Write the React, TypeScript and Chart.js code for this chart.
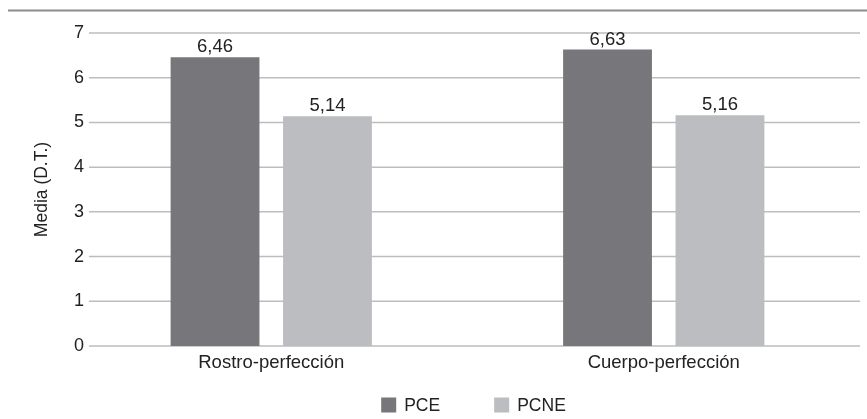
import React, { useEffect, useRef } from "react";
import { Chart, registerables } from "chart.js";

Chart.register(...registerables);

const categories = ["Rostro-perfección", "Cuerpo-perfección"];
const seriesNames = ["PCE", "PCNE"];
const pceValues = [6.46, 6.63];
const pcneValues = [5.14, 5.16];
const yTicks = [0, 1, 2, 3, 4, 5, 6, 7];

const COLORS = ["#77777b", "#bcbdc0"];
const FONT = "'Liberation Sans', Arial, Helvetica, sans-serif";
const TEXT = "#222222";

const fmt = (v: number) => v.toFixed(2).replace(".", ",");

const customPlugin = {
  id: "custom",
  beforeDatasetsDraw(chart: any) {
    const { ctx, chartArea, scales } = chart;
    const y = scales.y;
    ctx.save();
    ctx.strokeStyle = "#bdbdbd";
    ctx.lineWidth = 1.5;
    yTicks.forEach((t) => {
      const py = y.getPixelForValue(t);
      ctx.beginPath();
      ctx.moveTo(chartArea.left + 14, py);
      ctx.lineTo(chartArea.right, py);
      ctx.stroke();
    });
    ctx.restore();
  },
  afterDraw(chart: any) {
    const { ctx, chartArea } = chart;
    ctx.save();
    // top rule
    ctx.strokeStyle = "#8c8c8c";
    ctx.lineWidth = 2;
    ctx.beginPath();
    ctx.moveTo(8, 10.5);
    ctx.lineTo(chart.width, 10.5);
    ctx.stroke();

    // value labels
    ctx.font = `18.5px ${FONT}`;
    ctx.fillStyle = TEXT;
    ctx.textAlign = "center";
    ctx.textBaseline = "alphabetic";
    chart.data.datasets.forEach((ds: any, di: number) => {
      const meta = chart.getDatasetMeta(di);
      meta.data.forEach((bar: any, i: number) => {
        ctx.fillText(fmt(ds.data[i]), bar.x, bar.y - 5);
      });
    });

    // legend
    ctx.font = `17.5px ${FONT}`;
    ctx.textBaseline = "middle";
    ctx.textAlign = "left";
    const box = 15;
    const gap = 8;
    const spacing = 54;
    const widths = seriesNames.map((n) => ctx.measureText(n).width);
    const total =
      widths.reduce((a: number, w: number) => a + box + gap + w, 0) +
      spacing * (seriesNames.length - 1);
    let x = (chartArea.left + chartArea.right) / 2 + 6 - total / 2;
    const cy = 405;
    seriesNames.forEach((n, i) => {
      ctx.fillStyle = COLORS[i];
      ctx.fillRect(x, cy - box / 2, box, box);
      ctx.fillStyle = TEXT;
      ctx.fillText(n, x + box + gap, cy + 1);
      x += box + gap + widths[i] + spacing;
    });
    ctx.restore();
  },
};

export default function App() {
  const ref = useRef<HTMLCanvasElement>(null);

  useEffect(() => {
    if (!ref.current) return;
    const chart = new Chart(ref.current, {
      type: "bar",
      data: {
        labels: categories,
        datasets: [
          {
            label: seriesNames[0],
            data: pceValues,
            backgroundColor: COLORS[0],
            categoryPercentage: 0.573,
            barPercentage: 0.79,
          },
          {
            label: seriesNames[1],
            data: pcneValues,
            backgroundColor: COLORS[1],
            categoryPercentage: 0.573,
            barPercentage: 0.79,
          },
        ],
      },
      options: {
        animation: false,
        responsive: false,
        maintainAspectRatio: false,
        layout: { padding: { left: 32, right: 7, top: 33, bottom: 46 } },
        plugins: {
          legend: { display: false },
          tooltip: { enabled: false },
        },
        scales: {
          x: {
            grid: { display: false, drawTicks: false },
            border: { display: false },
            ticks: {
              color: TEXT,
              font: { family: FONT, size: 18.5 },
              padding: 6,
            },
            afterFit: (s: any) => {
              s.height = 27;
            },
          },
          y: {
            min: 0,
            max: 7,
            grid: { display: false, drawTicks: false },
            border: { display: false },
            afterBuildTicks: (s: any) => {
              s.ticks = yTicks.map((v) => ({ value: v }));
            },
            ticks: {
              color: TEXT,
              font: { family: FONT, size: 18 },
              mirror: true,
              crossAlign: "far",
              padding: -1,
            },
            title: {
              display: true,
              text: "Media (D.T.)",
              color: TEXT,
              font: { family: FONT, size: 17.5 },
              padding: 0,
            },
            afterFit: (s: any) => {
              s.width = 43;
            },
          },
        },
      },
      plugins: [customPlugin],
    });
    return () => chart.destroy();
  }, []);

  return (
    <div style={{ position: "absolute", left: 0, top: 0, width: 867, height: 419 }}>
      <canvas ref={ref} width={867} height={419} style={{ display: "block" }} />
    </div>
  );
}
